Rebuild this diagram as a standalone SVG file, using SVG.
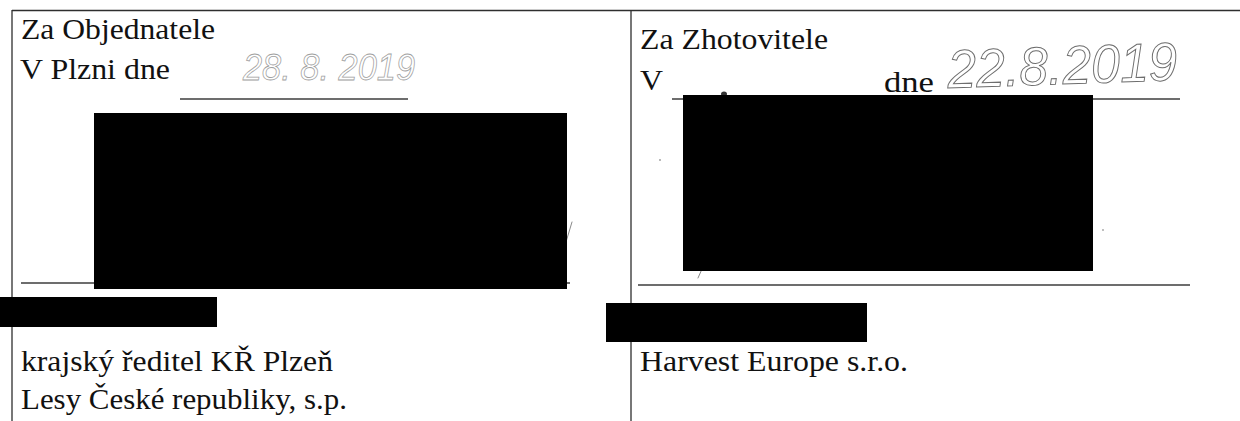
<svg xmlns="http://www.w3.org/2000/svg" width="1240" height="421" viewBox="0 0 1240 421">
  <style>
    .t { font-family: "Liberation Serif", "Times New Roman", serif; font-size: 30px; fill: #111; }
    .rule { stroke: #3c3c3c; stroke-width: 1.4; fill: none; }
    .frame { stroke: #2e2e2e; stroke-width: 1.3; fill: none; }
    .hand { font-family: "Liberation Sans", Arial, sans-serif; font-style: italic; fill: none; }
    .redact { fill: #000; }
    .mark { stroke: #8a8a8a; stroke-width: 1; fill: none; stroke-linecap: round; }
  </style>
  <rect width="1240" height="421" fill="#fff"/>

  <g id="frame">
    <line class="frame" x1="12" y1="10.5" x2="1240" y2="10.5"/>
    <line class="frame" x1="12" y1="10" x2="12" y2="421"/>
    <line class="frame" x1="631" y1="10" x2="631" y2="421"/>
  </g>

  <g id="objednatel">
    <text class="t" x="21" y="39" textLength="194" lengthAdjust="spacingAndGlyphs">Za Objednatele</text>
    <text class="t" x="20" y="79" textLength="150" lengthAdjust="spacingAndGlyphs">V Plzni dne</text>
    <line class="rule" x1="180" y1="99" x2="408" y2="99"/>
    <text class="hand" x="243" y="80" font-size="37" textLength="172" lengthAdjust="spacingAndGlyphs" stroke="#a0a0a0" stroke-width="0.8">28. 8. 2019</text>
    <line class="rule" x1="21" y1="283" x2="570" y2="283"/>
    <path class="mark" d="M566 242 L572 222"/>
    <rect class="redact" x="94" y="113" width="473" height="176"/>
    <rect class="redact" x="0" y="297" width="217" height="30"/>
    <text class="t" x="21" y="371" textLength="312" lengthAdjust="spacingAndGlyphs">krajský ředitel KŘ Plzeň</text>
    <text class="t" x="21" y="409" textLength="326" lengthAdjust="spacingAndGlyphs">Lesy České republiky, s.p.</text>
  </g>

  <g id="zhotovitel">
    <text class="t" x="640" y="49" textLength="188" lengthAdjust="spacingAndGlyphs">Za Zhotovitele</text>
    <text class="t" x="640" y="90" textLength="23" lengthAdjust="spacingAndGlyphs">V</text>
    <text class="t" x="884" y="92" textLength="50" lengthAdjust="spacingAndGlyphs">dne</text>
    <line class="rule" x1="672" y1="99" x2="1180" y2="99"/>
    <text class="hand" x="948" y="88" font-size="54" textLength="230" lengthAdjust="spacingAndGlyphs" stroke="#6e6e6e" stroke-width="1" transform="rotate(-2 948 88)">22.8.2019</text>
    <ellipse cx="724" cy="94" rx="3" ry="2.5" fill="#333"/>
    <circle cx="660" cy="160" r="0.9" fill="#999"/>
    <circle cx="1103" cy="230" r="1" fill="#aaa"/>
    <path class="mark" d="M698 278 L702 269"/>
    <line class="rule" x1="638" y1="285" x2="1190" y2="285"/>
    <rect class="redact" x="683" y="95" width="410" height="176"/>
    <rect class="redact" x="606" y="303" width="261" height="39"/>
    <text class="t" x="640" y="371" textLength="268" lengthAdjust="spacingAndGlyphs">Harvest Europe s.r.o.</text>
  </g>
</svg>
